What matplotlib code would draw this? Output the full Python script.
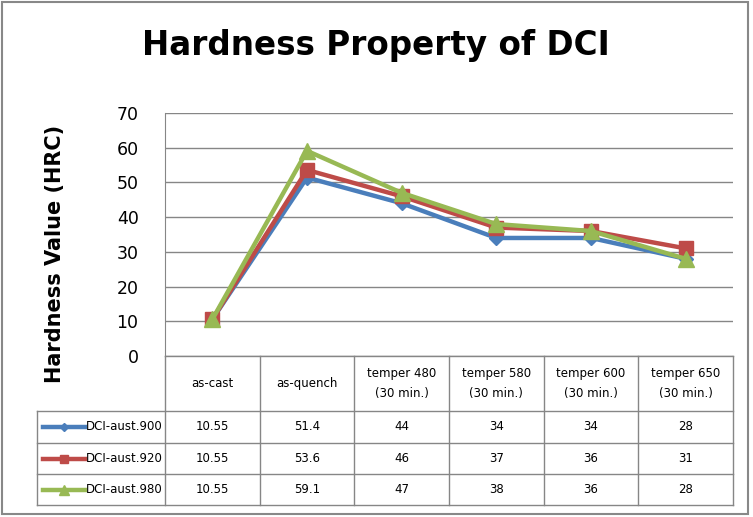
import matplotlib

matplotlib.use("Agg")
import matplotlib.pyplot as plt
from matplotlib.lines import Line2D
from matplotlib.patches import Rectangle

# chart data
categories = ["as-cast", "as-quench", "temper 480\n(30 min.)", "temper 580\n(30 min.)",
              "temper 600\n(30 min.)", "temper 650\n(30 min.)"]
series_names = ["DCI-aust.900", "DCI-aust.920", "DCI-aust.980"]
aust_900 = [10.55, 51.4, 44, 34, 34, 28]
aust_920 = [10.55, 53.6, 46, 37, 36, 31]
aust_980 = [10.55, 59.1, 47, 38, 36, 28]
value_labels = [
    ["10.55", "51.4", "44", "34", "34", "28"],
    ["10.55", "53.6", "46", "37", "36", "31"],
    ["10.55", "59.1", "47", "38", "36", "28"],
]
y_ticks = [0, 10, 20, 30, 40, 50, 60, 70]

colors = ["#4A7EBB", "#BE4B48", "#98B954"]
markers = ["D", "s", "^"]
msizes = [7, 10, 11]

W, H = 753, 517
fig = plt.figure(figsize=(W / 100, H / 100), dpi=100)
plt.rcParams["font.family"] = ["DejaVu Sans"]


def fx(px):
    return px / W


def fy(py):
    return 1 - py / H


left, right, top, bottom = 165, 733, 113, 356
ax = fig.add_axes([fx(left), fy(bottom), fx(right) - fx(left), fy(top) - fy(bottom)])
x = list(range(len(categories)))
for vals, c, m, ms in zip([aust_900, aust_920, aust_980], colors, markers, msizes):
    ax.plot(x, vals, color=c, lw=3.2, marker=m, ms=ms, mfc=c, mec=c, zorder=3)

ax.set_xlim(-0.5, len(categories) - 0.5)
ax.set_ylim(0, 70)
ax.set_yticks(y_ticks)
ax.set_yticklabels([str(t) for t in y_ticks], fontsize=12.5)
ax.set_xticks([])
ax.tick_params(axis="y", length=0, pad=19)
ax.yaxis.grid(True, color="#868686", lw=1)
ax.set_axisbelow(True)
for s in ["top", "right", "bottom"]:
    ax.spines[s].set_visible(False)
ax.spines["left"].set_color("#868686")

fig.text(fx(376), fy(45), "Hardness Property of DCI", ha="center", va="center",
         fontsize=23.5, fontweight="bold")
fig.text(fx(55), fy(254), "Hardness Value (HRC)", ha="center", va="center",
         rotation=90, fontsize=15, fontweight="bold")

# data table below the plot
gc = "#868686"
col_w = (right - left) / len(categories)
col_edges = [left + i * col_w for i in range(len(categories) + 1)]
row_edges = [356, 411, 443, 474, 505]
leg_left = 37


def hline(y, x0, x1):
    fig.add_artist(Line2D([fx(x0), fx(x1)], [fy(y), fy(y)], color=gc, lw=1))


def vline(xp, y0, y1):
    fig.add_artist(Line2D([fx(xp), fx(xp)], [fy(y0), fy(y1)], color=gc, lw=1))


hline(row_edges[0], left, right)
for r in row_edges[1:]:
    hline(r, leg_left, right)
for xe in col_edges:
    vline(xe, row_edges[0], row_edges[-1])
vline(leg_left, row_edges[1], row_edges[-1])

for i, cat in enumerate(categories):
    xc = (col_edges[i] + col_edges[i + 1]) / 2
    fig.text(fx(xc), fy((row_edges[0] + row_edges[1]) / 2), cat, ha="center", va="center",
             fontsize=8.5, linespacing=1.6)

for j, name in enumerate(series_names):
    yc = (row_edges[j + 1] + row_edges[j + 2]) / 2
    fig.add_artist(Line2D([fx(43), fx(85)], [fy(yc), fy(yc)], color=colors[j], lw=3.2))
    fig.add_artist(Line2D([fx(64)], [fy(yc)], color=colors[j], marker=markers[j],
                          ms=msizes[j] * 0.6, mec=colors[j]))
    fig.text(fx(86), fy(yc), name, ha="left", va="center", fontsize=8.5)
    for i, lab in enumerate(value_labels[j]):
        xc = (col_edges[i] + col_edges[i + 1]) / 2
        fig.text(fx(xc), fy(yc), lab, ha="center", va="center", fontsize=8.5)

fig.add_artist(Rectangle((fx(2), fy(514)), fx(748) - fx(2), fy(2) - fy(514), fill=False,
                         ec="#888888", lw=1.5, transform=fig.transFigure))

fig.savefig("out.png", dpi=100)
